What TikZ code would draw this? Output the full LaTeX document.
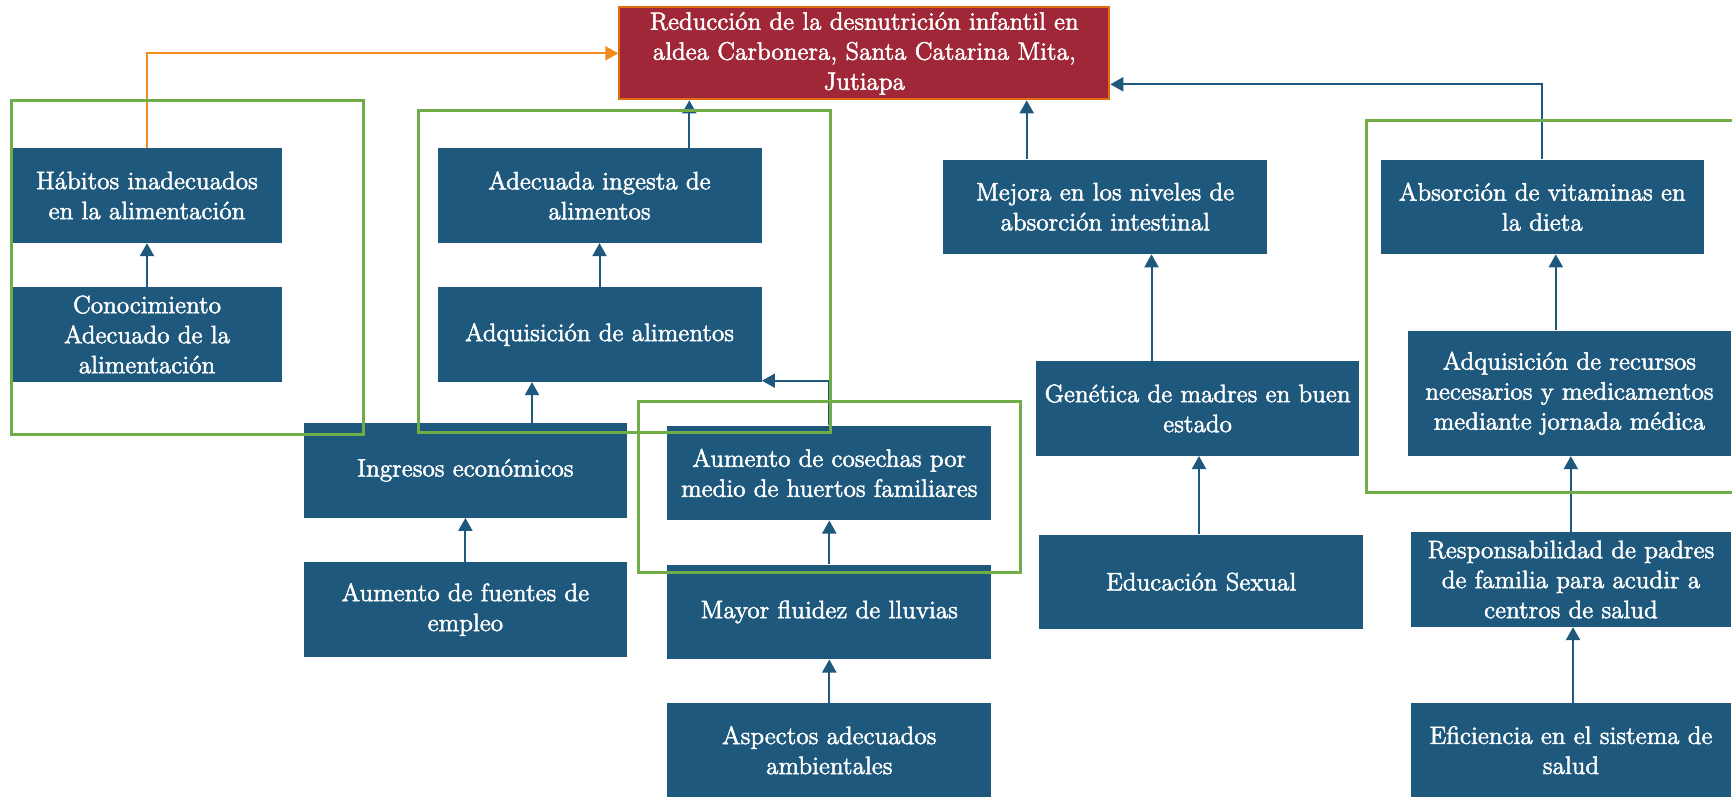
\documentclass[tikz,border=0pt]{standalone}
\usepackage{fontspec}
\setmainfont{lmroman12-regular.otf}[FakeBold=2.0]
\usetikzlibrary{arrows.meta}
\definecolor{boxblue}{RGB}{30,88,124}
\definecolor{redbox}{RGB}{160,39,56}
\definecolor{redborder}{RGB}{222,110,20}
\definecolor{grpgreen}{RGB}{112,173,71}
\definecolor{orangearr}{RGB}{240,140,30}
\tikzset{
  bx/.style={rectangle, fill=boxblue, text=white, align=center, inner sep=0pt,
    font=\fontsize{12.6}{15}\selectfont\bfseries, minimum height=47.2pt},
  arr/.style={draw=boxblue, line width=1pt, -{Triangle[length=6.5pt,width=7pt]}},
  orarr/.style={draw=orangearr, line width=1pt, -{Triangle[length=6.5pt,width=7pt]}},
  grp/.style={draw=grpgreen, line width=1.5pt},
}
\begin{document}
\begin{tikzpicture}[x=0.5pt,y=-0.5pt]
\useasboundingbox (0,0) rectangle (1732,798);
\clip (0,0) rectangle (1732,798);
% top node
\node[bx, fill=redbox, draw=redborder, line width=1pt, minimum width=245pt, minimum height=46pt] (red) at (864.3,53.3)
  {Reducción de la desnutrición infantil en\\aldea Carbonera, Santa Catarina Mita,\\Jutiapa};
% left column
\node[bx, minimum width=135pt] (habitos) at (147,195.5) {Hábitos inadecuados\\en la alimentación};
\node[bx, minimum width=135pt] (conoc) at (147,334.5) {Conocimiento\\Adecuado de la\\alimentación};
% second column
\node[bx, minimum width=162pt] (adecuada) at (599.5,195.5) {Adecuada ingesta de\\alimentos};
\node[bx, minimum width=162pt] (adquis) at (599.5,334.5) {Adquisición de alimentos};
\node[bx, minimum width=161.5pt] (ingresos) at (465.4,470.3) {Ingresos económicos};
\node[bx, minimum width=161.5pt] (fuentes) at (465.4,609.5) {Aumento de fuentes de\\empleo};
\node[bx, minimum width=162pt] (cosechas) at (829.3,472.9) {Aumento de cosechas por\\medio de huertos familiares};
\node[bx, minimum width=162pt] (lluvias) at (829.3,611.9) {Mayor fluidez de lluvias};
\node[bx, minimum width=162pt] (aspectos) at (829.3,750.2) {Aspectos adecuados\\ambientales};
% third column
\node[bx, minimum width=161.8pt] (mejora) at (1105.2,206.7) {Mejora en los niveles de\\absorción intestinal};
\node[bx, minimum width=161.6pt] (genetica) at (1197.6,408.4) {Genética de madres en buen\\estado};
\node[bx, minimum width=161.8pt] (educacion) at (1201.2,581.7) {Educación Sexual};
% fourth column
\node[bx, minimum width=161.5pt] (absorcion) at (1542.3,206.7) {Absorción de vitaminas en\\la dieta};
\node[bx, minimum width=161.6pt, minimum height=62.5pt] (recursos) at (1569.4,393.2) {Adquisición de recursos\\necesarios y medicamentos\\mediante jornada médica};
\node[bx, minimum width=160pt] (resp) at (1571,579.5) {Responsabilidad de padres\\de familia para acudir a\\centros de salud};
\node[bx, minimum width=160pt] (eficiencia) at (1571,750.2) {Eficiencia en el sistema de\\salud};
% helper coordinates
\coordinate (xa) at (689.3,0);
\coordinate (xb) at (532,0);
\coordinate (yc) at (0,380.7);
\coordinate (xd) at (1026.7,0);
\coordinate (xe) at (1151.5,0);
\coordinate (xf) at (1199,0);
\coordinate (yg) at (0,84.3);
\coordinate (xh) at (1555.8,0);
\coordinate (xi) at (1570.8,0);
\coordinate (xj) at (1573,0);
% connectors
\draw[orarr] (habitos.north) |- (red.west);
\draw[arr] (conoc.north) -- (habitos.south);
\draw[arr] (adquis.north) -- (adecuada.south);
\draw[arr] (adecuada.north -| xa) -- (red.south -| xa);
\draw[arr] (ingresos.north -| xb) -- (adquis.south -| xb);
\draw[arr] (fuentes.north) -- (ingresos.south);
\draw[arr] (cosechas.north) |- (adquis.east |- yc);
\draw[arr] (lluvias.north) -- (cosechas.south);
\draw[arr] (aspectos.north) -- (lluvias.south);
\draw[arr] (mejora.north -| xd) -- (red.south -| xd);
\draw[arr] (genetica.north -| xe) -- (mejora.south -| xe);
\draw[arr] (educacion.north -| xf) -- (genetica.south -| xf);
\draw[arr] (absorcion.north) |- (red.east |- yg);
\draw[arr] (recursos.north -| xh) -- (absorcion.south -| xh);
\draw[arr] (resp.north -| xi) -- (recursos.south -| xi);
\draw[arr] (eficiencia.north -| xj) -- (resp.south -| xj);
% group frames
\draw[grp] (11,100) rectangle (363,434);
\draw[grp] (418.6,110.7) rectangle (830.7,432.7);
\draw[grp] (638.5,401) rectangle (1020.7,572.7);
\draw[grp] (1366.4,120.7) rectangle (1745,492.3);
\end{tikzpicture}
\end{document}
